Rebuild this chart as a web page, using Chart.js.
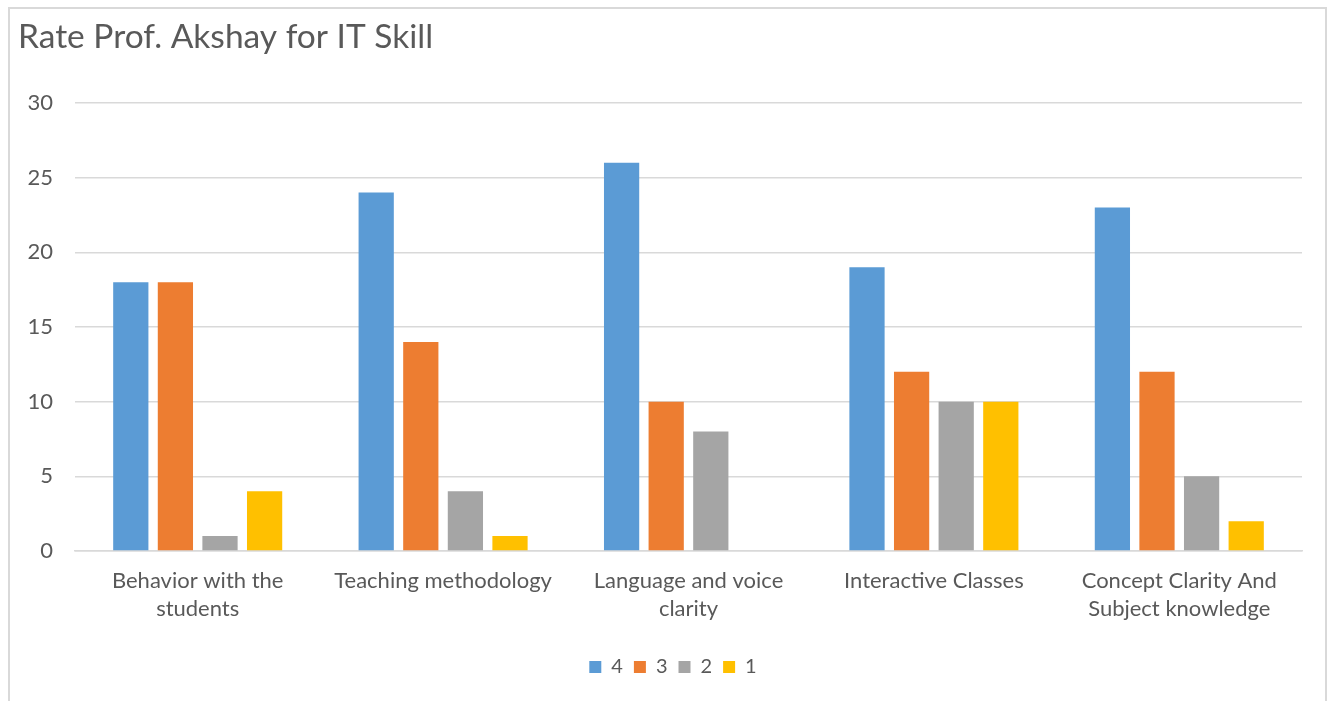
<!DOCTYPE html>
<html>
<head>
<meta charset="utf-8">
<script src="https://cdn.jsdelivr.net/npm/chart.js@4/dist/chart.umd.min.js"></script>
<style>
  html, body { margin: 0; padding: 0; background: #fff; }
  #wrap { position: relative; width: 1338px; height: 701px; overflow: hidden; }
  #frame {
    position: absolute; left: 8px; top: 7px; width: 1319px; height: 720px;
    border: 2px solid #d9d9d9; box-sizing: border-box;
  }
  canvas { position: absolute; left: 0; top: 0; }
</style>
</head>
<body>
<div id="wrap">
  <div id="frame"></div>
  <canvas id="chart" width="1338" height="701"></canvas>
</div>
<script>
const categories = [
  ['Behavior with the', 'students'],
  ['Teaching methodology'],
  ['Language and voice', 'clarity'],
  ['Interactive Classes'],
  ['Concept Clarity And', 'Subject knowledge']
]
const seriesNames = ['4', '3', '2', '1']
const rating4 = [18, 24, 26, 19, 23]
const rating3 = [18, 14, 10, 12, 12]
const rating2 = [1, 4, 8, 10, 5]
const rating1 = [4, 1, 0, 10, 2]
const colours = ['#5B9BD5', '#ED7D31', '#A5A5A5', '#FFC000']
const yTicks = [0, 5, 10, 15, 20, 25, 30]

const textColour = '#595959'
const fontFamily = 'Lato, "Open Sans", sans-serif'

const values = [rating4, rating3, rating2, rating1]

// Excel puts the legend a little right of the plot centre
const legendShift = {
  id: 'legendShift',
  afterLayout(chart) {
    chart.legend.left += 13
    chart.legend.right += 13
  }
}

new Chart(document.getElementById('chart'), {
  type: 'bar',
  data: {
    labels: categories,
    datasets: seriesNames.map((name, i) => ({
      label: name,
      data: values[i],
      backgroundColor: colours[i],
      borderWidth: 0,
      categoryPercentage: 0.727,
      barPercentage: 0.79
    }))
  },
  options: {
    responsive: false,
    animation: false,
    layout: { padding: { left: 18, right: 36, top: 12, bottom: 14 } },
    plugins: {
      title: {
        display: true,
        text: 'Rate Prof. Akshay for IT Skill',
        align: 'start',
        color: textColour,
        font: { family: fontFamily, size: 33.5, weight: 'normal' },
        padding: { top: 5, bottom: 45.8 }
      },
      legend: {
        position: 'bottom',
        labels: {
          color: textColour,
          font: { family: fontFamily, size: 20 },
          boxWidth: 12,
          boxHeight: 12,
          padding: 11
        }
      },
      tooltip: { enabled: false }
    },
    scales: {
      x: {
        grid: { display: false },
        border: { color: '#d9d9d9', width: 1.5 },
        ticks: {
          color: textColour,
          font: { family: fontFamily, size: 22, lineHeight: 1.28 },
          padding: 8,
          maxRotation: 0
        },
        afterFit: scale => { scale.height = 95 }
      },
      y: {
        min: 0,
        max: 30,
        afterBuildTicks: scale => { scale.ticks = yTicks.map(v => ({ value: v })) },
        grid: { color: '#d9d9d9', lineWidth: 1.5, drawTicks: false },
        border: { display: false },
        ticks: {
          color: textColour,
          font: { family: fontFamily, size: 22 },
          padding: 22
        },
        afterFit: scale => { scale.width = 57 }
      }
    }
  },
  plugins: [legendShift]
})
</script>
</body>
</html>
